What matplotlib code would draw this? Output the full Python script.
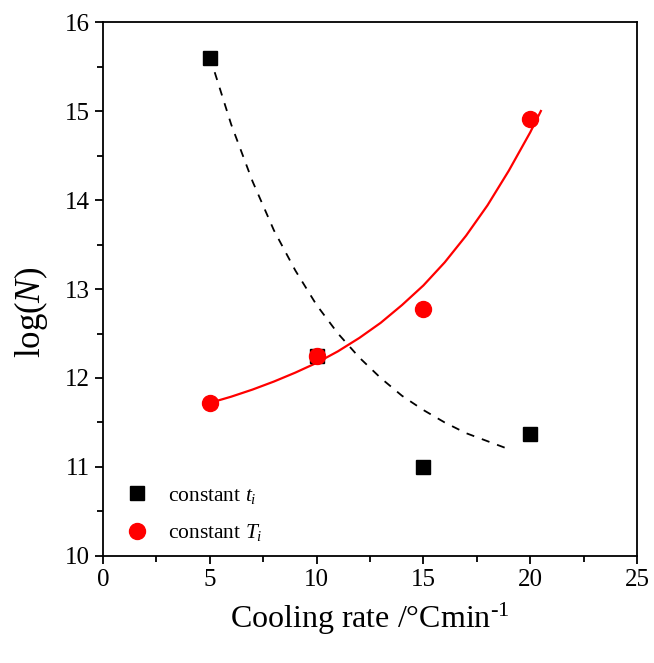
import matplotlib.pyplot as plt
from matplotlib.ticker import MultipleLocator

plt.rcParams['font.family'] = ['Liberation Serif', 'DejaVu Serif']
plt.rcParams['mathtext.fontset'] = 'custom'
plt.rcParams['mathtext.rm'] = 'Liberation Serif'
plt.rcParams['mathtext.it'] = 'Liberation Serif:italic'

# measured points
rate = [5, 10, 15, 20]
logN_const_t = [15.6, 12.25, 11.0, 11.37]
logN_const_T = [11.72, 12.25, 12.77, 14.91]

# fitted curves
fit_t_x = [5, 6, 7, 8, 9, 10, 11, 12, 13, 14, 15, 16, 17, 18, 19, 19.1]
fit_t_y = [15.61, 14.85, 14.21, 13.66, 13.21, 12.82, 12.50, 12.23, 12.00,
           11.80, 11.64, 11.50, 11.38, 11.29, 11.20, 11.19]
fit_T_x = [5, 6, 7, 8, 9, 10, 11, 12, 13, 14, 15, 16, 17, 18, 19, 20, 20.5]
fit_T_y = [11.72, 11.79, 11.87, 11.96, 12.06, 12.17, 12.30, 12.45, 12.62,
           12.82, 13.04, 13.30, 13.60, 13.94, 14.33, 14.76, 15.0]

fig, ax = plt.subplots(figsize=(6.54, 6.63), dpi=100)
fig.subplots_adjust(left=0.1575, right=0.974, bottom=0.1614, top=0.9668)

ax.plot(fit_t_x, fit_t_y, color='black', ls=(0, (4.5, 4.5)), lw=1.3)
ax.plot(fit_T_x, fit_T_y, color='red', lw=1.6)

ax.plot(rate, logN_const_t, 's', color='black', ms=10.5, label='constant $t_i$')
ax.plot(rate, logN_const_T, 'o', color='red', ms=11.5, label='constant $T_i$')

ax.set_xlim(0, 25)
ax.set_ylim(10, 16)
ax.xaxis.set_major_locator(MultipleLocator(5))
ax.xaxis.set_minor_locator(MultipleLocator(2.5))
ax.yaxis.set_major_locator(MultipleLocator(1))
ax.yaxis.set_minor_locator(MultipleLocator(0.5))
ax.tick_params(which='both', direction='out', width=1.3, top=False, right=False,
               labelsize=18)
ax.tick_params(which='major', length=6)
ax.tick_params(which='minor', length=4)
for s in ax.spines.values():
    s.set_linewidth(1.3)

ax.set_xlabel('Cooling rate /°Cmin$^{\\text{-1}}$', fontsize=23, labelpad=7)
ax.set_ylabel('log($N$)', fontsize=25)
ax.yaxis.set_label_coords(-0.099, 0.457)

ax.legend(loc='lower left', frameon=False, fontsize=15.5, handlelength=1.0,
          handletextpad=0.95, borderpad=0, borderaxespad=0, labelspacing=0.75,
          bbox_to_anchor=(0.043, 0.024))

fig.savefig('out.png', dpi=100)
